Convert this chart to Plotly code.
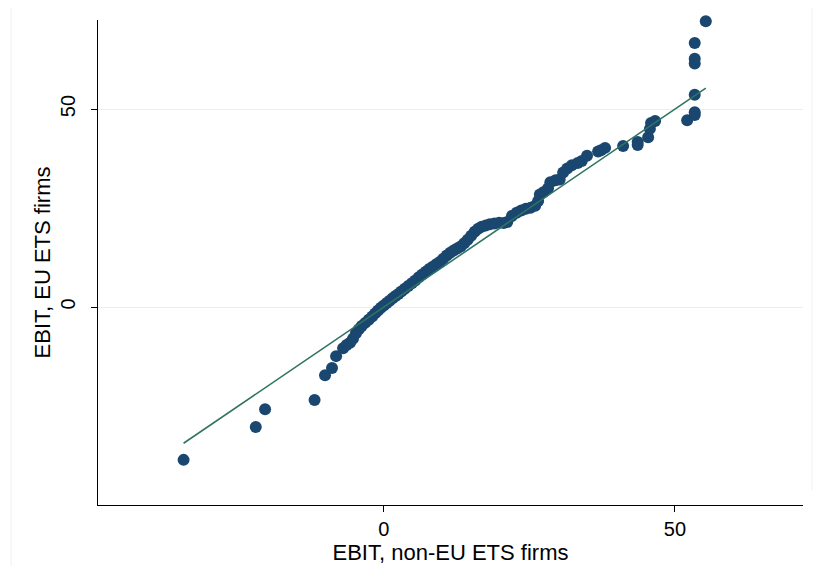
import plotly.graph_objects as go

# Quantiles of EBIT: non-EU ETS firms (x) vs EU ETS firms (y)
non_ets_q = [-34.4, -22.0, -20.4, -11.9, -10.1, -8.9, -8.2, -7.0, -6.4, -5.8, -5.3, -4.8,
             -4.3, -3.8, -3.2, -2.6, -2.0, -1.5, -1.0, -0.5, 0.0, 0.5, 1.0, 1.5, 2.0, 2.5,
             3.0, 3.6, 4.2, 4.8, 5.4, 6.0, 6.6, 7.2, 7.8, 8.4, 9.0, 9.6, 10.2, 10.8, 11.4,
             12.0, 12.6, 13.2, 13.8, 14.4, 15.0, 15.6, 16.2, 16.8, 17.5, 18.2, 19.0, 19.8,
             20.6, 21.2, 22.0, 22.8, 23.6, 24.4, 25.2, 26.0, 26.5, 26.8, 27.4, 28.2, 28.6,
             29.5, 30.2, 30.8, 31.5, 32.3, 33.3, 34.0, 34.9, 36.8, 37.3, 38.0, 41.1, 43.6,
             43.6, 45.4, 45.7, 45.9, 46.6, 52.1, 53.4, 53.4, 53.4, 53.4, 53.4, 53.4, 55.3]
ets_q = [-38.6, -30.3, -25.8, -23.5, -17.2, -15.4, -12.4, -10.4, -9.6, -9.0, -8.0, -6.6,
         -5.6, -4.8, -4.0, -3.2, -2.4, -1.6, -0.9, -0.2, 0.4, 1.0, 1.6, 2.2, 2.8, 3.3,
         3.9, 4.6, 5.3, 6.0, 6.7, 7.5, 8.2, 8.9, 9.6, 10.2, 10.8, 11.4, 12.2, 13.0, 13.7,
         14.3, 14.8, 15.3, 16.1, 17.0, 18.0, 19.0, 19.8, 20.3, 20.6, 20.9, 21.1, 21.3,
         21.2, 21.5, 23.0, 23.8, 24.4, 24.8, 25.1, 25.6, 26.8, 28.4, 29.0, 30.0, 31.5,
         32.0, 32.2, 34.0, 35.0, 35.8, 36.4, 36.9, 38.2, 39.3, 39.6, 40.2, 40.7, 40.9,
         41.7, 42.9, 45.0, 46.5, 47.0, 47.2, 48.5, 49.2, 53.6, 61.5, 62.7, 66.7, 72.2]

x_ticks = [0, 50]
y_ticks = [0, 50]

xmin, xmax = min(non_ets_q), max(non_ets_q)

fig = go.Figure()
fig.add_trace(go.Scatter(
    x=non_ets_q, y=ets_q, mode="markers",
    marker=dict(color="#1a476f", size=12, line=dict(width=0)),
    showlegend=False, cliponaxis=False,
))
fig.add_trace(go.Scatter(
    x=[xmin, xmax], y=[xmin, xmax], mode="lines",
    line=dict(color="#2f7462", width=1.6),
    showlegend=False,
))

font_family = "Liberation Sans, Arial, sans-serif"
fig.update_layout(
    width=825, height=566,
    margin=dict(l=90, r=30, t=12, b=69),
    paper_bgcolor="white", plot_bgcolor="white",
    font=dict(family=font_family, size=19, color="black"),
    xaxis=dict(
        range=[-49.1, 72.0], tickvals=x_ticks, ticktext=[str(v) for v in x_ticks],
        showgrid=False, zeroline=False, showline=True, linecolor="black", linewidth=1,
        ticks="outside", ticklen=6, tickcolor="black", automargin=False,
        title=dict(text="EBIT, non-EU ETS firms", font=dict(size=22), standoff=0),
        tickfont=dict(size=20),
    ),
    yaxis=dict(
        range=[-50.0, 72.5], tickvals=y_ticks, ticktext=[str(v) for v in y_ticks],
        showgrid=True, gridcolor="#e8eff0", gridwidth=1,
        zeroline=False, showline=True, linecolor="black", linewidth=1,
        ticks="outside", ticklen=6, tickcolor="black", tickangle=-90, automargin=False,
        ticklabelstandoff=8,
        title=dict(text="EBIT, EU ETS firms", font=dict(size=22), standoff=0),
        tickfont=dict(size=20),
    ),
    shapes=[
        dict(type="line", xref="paper", yref="paper", x0=1.027, x1=1.027, y0=0.031, y1=-0.16,
             line=dict(color="#1f6fb2", width=2)),
        dict(type="line", xref="paper", yref="paper", x0=(11 - 98) / 705, x1=(11 - 98) / 705,
             y0=1.04, y1=-0.16, line=dict(color="#eef2f2", width=1)),
        dict(type="line", xref="paper", yref="paper", x0=(812 - 98) / 705, x1=(812 - 98) / 705,
             y0=1.04, y1=0.03, line=dict(color="#eef2f2", width=1)),
    ],
)

fig.write_html("out.html")
